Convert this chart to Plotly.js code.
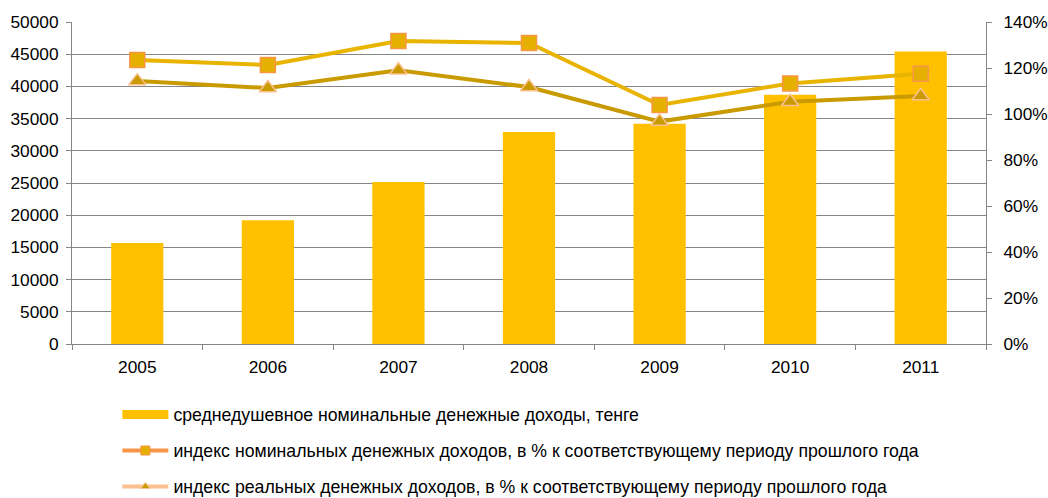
<!DOCTYPE html>
<html>
<head>
<meta charset="utf-8">
<script src="https://cdn.plot.ly/plotly-3.0.1.min.js"></script>
<style>
  html, body { margin: 0; padding: 0; background: #fff; }
  #chart { width: 1048px; height: 498px; }
</style>
</head>
<body>
<div id="chart"></div>
<script>
const years = ['2005', '2006', '2007', '2008', '2009', '2010', '2011'];
const incomePerCapita = [15700, 19200, 25150, 32900, 34200, 38700, 45400];
const nominalIndex = [123.5, 121.3, 131.7, 130.9, 103.9, 113.3, 117.5];
const realIndex = [114.3, 111.3, 119.0, 111.7, 96.7, 105.3, 107.8];

const barName = 'среднедушевное номинальные денежные доходы, тенге';
const nominalName = 'индекс номинальных денежных доходов, в % к соответствующему периоду прошлого года';
const realName = 'индекс реальных денежных доходов, в % к соответствующему периоду прошлого года';

const font = {family: 'Liberation Sans, Arial, sans-serif', size: 17.3, color: '#000'};
const legendFont = {family: 'Liberation Sans, Arial, sans-serif', size: 17.7, color: '#000'};

const bars = {
    x: years, y: incomePerCapita, type: 'bar', name: barName,
    marker: {color: '#FFC000'}, showlegend: false, legendgroup: 'a', hoverinfo: 'x+y'
};
const nominal = {
    x: years, y: nominalIndex, type: 'scatter', mode: 'lines+markers', yaxis: 'y2',
    name: nominalName, showlegend: false, legendgroup: 'b',
    line: {color: '#E8B400', width: 4},
    marker: {symbol: 'square', size: 15, color: '#E6B000', line: {color: '#F79646', width: 1.5}}
};
const real = {
    x: years, y: realIndex, type: 'scatter', mode: 'lines+markers', yaxis: 'y2',
    name: realName, showlegend: false, legendgroup: 'c',
    line: {color: '#C99B00', width: 4},
    marker: {symbol: 'triangle-up', size: 15, color: '#C99B00', line: {color: '#FAC090', width: 1.5}}
};

// legend-only entries (legend swatches are styled differently from the plotted marks)
const legBar = {
    x: [null], y: [null], type: 'scatter', mode: 'lines', name: barName, legend: 'legend',
    legendgroup: 'a', line: {color: '#FFC000', width: 9}, hoverinfo: 'skip'
};
const legNominal = {
    x: [null], y: [null], type: 'scatter', mode: 'lines+markers', name: nominalName, legend: 'legend2',
    legendgroup: 'b', line: {color: '#F79646', width: 4},
    marker: {symbol: 'square', size: 9, color: '#E6B000', line: {color: '#F79646', width: 1}}, hoverinfo: 'skip'
};
const legReal = {
    x: [null], y: [null], type: 'scatter', mode: 'lines+markers', name: realName, legend: 'legend3',
    legendgroup: 'c', line: {color: '#FAC090', width: 4},
    marker: {symbol: 'triangle-up', size: 8, color: '#C99B00', line: {color: '#FAC090', width: 1}}, hoverinfo: 'skip'
};

const legendBase = {
    xref: 'container', yref: 'container', x: 0.112, xanchor: 'left', yanchor: 'middle',
    font: legendFont, itemwidth: 46, bgcolor: 'rgba(0,0,0,0)', borderwidth: 0
};

const layout = {
    width: 1048, height: 498,
    margin: {l: 72, r: 62, t: 22, b: 154, autoexpand: false},
    paper_bgcolor: '#fff', plot_bgcolor: '#fff',
    font: font,
    bargap: 0.6,
    xaxis: {
        type: 'category', showgrid: false, showline: true, linecolor: '#868686', linewidth: 1,
        ticks: 'outside', tickson: 'boundaries', ticklen: 5, tickcolor: '#868686', tickfont: font,
        zeroline: false, tickangle: 0, automargin: false, ticklabelstandoff: 7
    },
    yaxis: {
        range: [0, 50000], dtick: 5000, tickformat: 'd', showgrid: true, gridcolor: '#868686', gridwidth: 1,
        showline: true, linecolor: '#868686', ticks: 'outside', ticklen: 5, tickcolor: '#868686',
        tickfont: font, zeroline: false, automargin: false, ticklabelstandoff: 4
    },
    yaxis2: {
        overlaying: 'y', side: 'right', range: [0, 140], dtick: 20, ticksuffix: '%',
        showgrid: false, showline: true, linecolor: '#868686', ticks: 'outside', ticklen: 5,
        tickcolor: '#868686', tickfont: font, zeroline: false, automargin: false, ticklabelstandoff: 8
    },
    legend: Object.assign({}, legendBase, {y: 1 - 415 / 498}),
    legend2: Object.assign({}, legendBase, {y: 1 - 451 / 498}),
    legend3: Object.assign({}, legendBase, {y: 1 - 487 / 498}),
    showlegend: true
};

Plotly.newPlot('chart', [bars, nominal, real, legBar, legNominal, legReal], layout, {displayModeBar: false});
</script>
</body>
</html>
